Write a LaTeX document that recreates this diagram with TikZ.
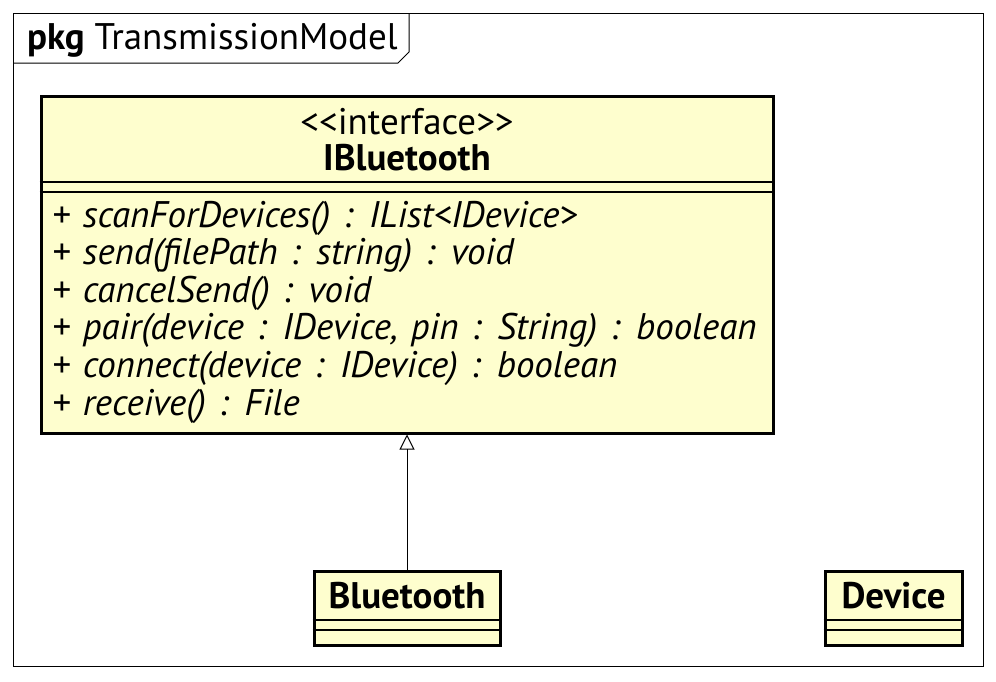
\documentclass[tikz,border=0pt]{standalone}
\usepackage{fontspec}
\setmainfont{PT Sans}
\newfontfamily\memberfont[WordSpace=1.3]{PT Sans}
\usetikzlibrary{arrows.meta,positioning}
\definecolor{colClass}{RGB}{254,254,206}
\colorlet{colLine}{black}
\tikzstyle{classbox}=[draw=colLine, line width=3pt, fill=colClass, inner sep=0pt]
\tikzstyle{sepline}=[line width=1.5pt, colLine]
\tikzstyle{frame}=[line width=1pt, colLine]
\tikzstyle{member}=[anchor=west, inner sep=0pt, font=\memberfont\fontsize{37}{40}\selectfont\itshape]
\tikzstyle{title}=[inner sep=0pt, font=\fontsize{37}{40}\selectfont]
\tikzstyle{realize}=[line width=1pt, -{Triangle[open, length=15pt, width=15pt]}]

\begin{document}
\begin{tikzpicture}[x=1pt, y=-1pt]
			\useasboundingbox (0,0) rectangle (996,681);
			%%% Package frame
			\draw[frame] (13,13) rectangle (983,666);
			\draw[frame] (13,63) -- (398,63) -- (409,52) -- (409,13);
			\node[title, anchor=west] (pkg) at (27,40) {\textbf{pkg} TransmissionModel};

			%%% Interface
			\node[classbox, minimum width=732pt, minimum height=337pt] (ibt) at (407,264.5) {};
			\node[title] (ibtstereo) at (407,122) {{<}{<}interface{>}{>}};
			\node[title] (ibtname)   at (407,158) {\textbf{IBluetooth}};
			\draw[sepline] (ibt.west |- 0,182) -- (ibt.east |- 0,182);
			\draw[sepline] (ibt.west |- 0,192) -- (ibt.east |- 0,192);
			\node[member] (m1) at (52,218) {+ scanForDevices() : IList<IDevice>};
			\node[member] (m2) at (52,255) {+ send(filePath : string) : void};
			\node[member] (m3) at (52,293) {+ cancelSend() : void};
			\node[member] (m4) at (52,330) {+ pair(device : IDevice, pin : String) : boolean};
			\node[member] (m5) at (52,368) {+ connect(device : IDevice) : boolean};
			\node[member] (m6) at (52,406) {+ receive() : File};

			%%% Classes
			\node[classbox, minimum width=186pt, minimum height=74pt] (bt) at (407,608) {};
			\node[title] (btname) at (407,596) {\textbf{Bluetooth}};
			\draw[sepline] (bt.west |- 0,620) -- (bt.east |- 0,620);
			\draw[sepline] (bt.west |- 0,630) -- (bt.east |- 0,630);

			\node[classbox, minimum width=137pt, minimum height=74pt] (dev) at (893.5,608) {};
			\node[title] (devname) at (893.5,596) {\textbf{Device}};
			\draw[sepline] (dev.west |- 0,620) -- (dev.east |- 0,620);
			\draw[sepline] (dev.west |- 0,630) -- (dev.east |- 0,630);

			%%% Realization
			\draw[realize] (bt.north) -- (ibt.south);
		\end{tikzpicture}
\end{document}
